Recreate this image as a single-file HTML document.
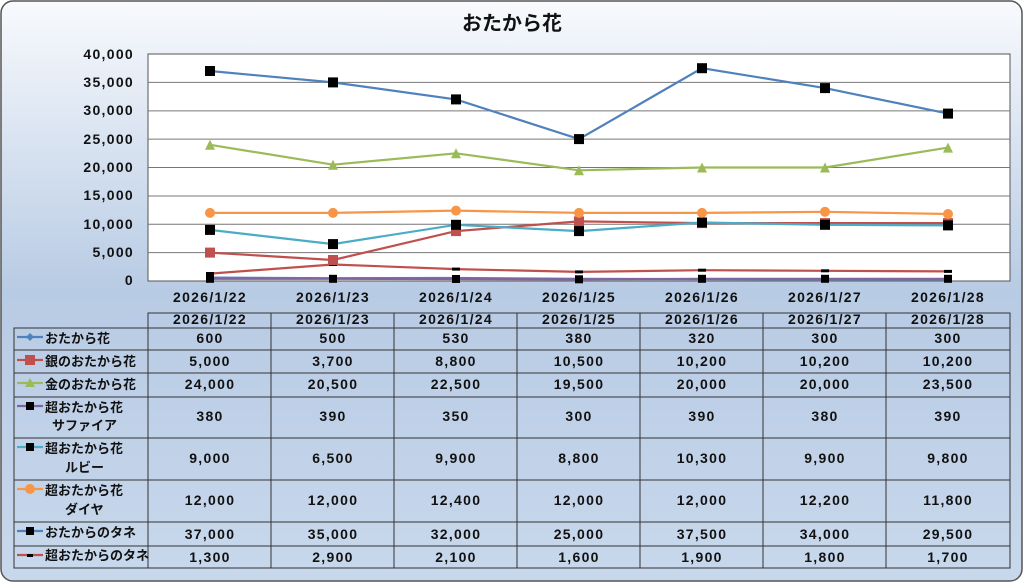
<!DOCTYPE html>
<html><head><meta charset="utf-8"><style>
body{margin:0;width:1024px;height:583px;overflow:hidden;background:#fff}
svg text{font-family:"Liberation Sans","Noto Sans CJK JP",sans-serif;font-weight:bold;fill:#111}
.n text,text.n{font-size:14px;letter-spacing:1.3px;font-weight:600}
</style></head><body>
<svg width="1024" height="583" viewBox="0 0 1024 583" xmlns="http://www.w3.org/2000/svg">
<defs><linearGradient id="bg" x1="0" y1="0" x2="0" y2="1">
<stop offset="0" stop-color="#f8fafd"/><stop offset="0.5" stop-color="#b8cbe4"/><stop offset="1" stop-color="#c8d8ec"/></linearGradient></defs>
<rect x="1" y="1" width="1021" height="580" rx="12" fill="url(#bg)" stroke="#555" stroke-width="1.5"/>
<text x="512" y="30" font-size="20" text-anchor="middle">おたから花</text>
<rect x="148" y="54" width="862" height="227" fill="#fff" stroke="#555"/>
<g stroke="#777" stroke-width="1">
<line x1="148" x2="1010" y1="82.4" y2="82.4"/><line x1="148" x2="1010" y1="110.9" y2="110.9"/>
<line x1="148" x2="1010" y1="139.1" y2="139.1"/><line x1="148" x2="1010" y1="167.5" y2="167.5"/>
<line x1="148" x2="1010" y1="196" y2="196"/><line x1="148" x2="1010" y1="224.3" y2="224.3"/>
<line x1="148" x2="1010" y1="252.6" y2="252.6"/></g>
<g class="n" text-anchor="end">
<text x="134" y="59">40,000</text><text x="134" y="87">35,000</text><text x="134" y="115">30,000</text>
<text x="134" y="144">25,000</text><text x="134" y="172">20,000</text><text x="134" y="200">15,000</text>
<text x="134" y="229">10,000</text><text x="134" y="257">5,000</text><text x="134" y="285">0</text></g>
<g class="n" text-anchor="middle">
<text x="210" y="302">2026/1/22</text><text x="333" y="302">2026/1/23</text><text x="456" y="302">2026/1/24</text>
<text x="579" y="302">2026/1/25</text><text x="702" y="302">2026/1/26</text><text x="825" y="302">2026/1/27</text><text x="948" y="302">2026/1/28</text></g>
<g fill="none" stroke-width="2.2">
<polyline stroke="#4f81bd" points="210,277.6 333,278.2 456,278 579,278.8 702,279.2 825,279.3 948,279.3"/>
<polyline stroke="#8064a2" points="210,278.8 333,278.8 456,279 579,279.3 702,278.8 825,278.8 948,278.8"/>
<polyline stroke="#c0504d" points="210,273.6 333,264.5 456,269.1 579,271.9 702,270.2 825,270.8 948,271.4"/>
<polyline stroke="#c0504d" points="210,252.6 333,260 456,231.1 579,221.4 702,223.1 825,223.1 948,223.1"/>
<polyline stroke="#4bacc6" points="210,229.9 333,244.1 456,224.8 579,231.1 702,222.5 825,224.8 948,225.4"/>
<polyline stroke="#f79646" points="210,212.9 333,212.9 456,210.6 579,212.9 702,212.9 825,211.8 948,214"/>
<polyline stroke="#9bbb59" points="210,144.8 333,164.7 456,153.3 579,170.3 702,167.5 825,167.5 948,147.6"/>
<polyline stroke="#4f81bd" points="210,71 333,82.4 456,99.4 579,139.1 702,68.2 825,88.1 948,113.6"/>
</g>
<g fill="#000">
<rect x="206" y="274.8" width="8" height="8"/><rect x="329" y="274.8" width="8" height="8"/><rect x="452" y="275" width="8" height="8"/><rect x="575" y="275.3" width="8" height="8"/><rect x="698" y="274.8" width="8" height="8"/><rect x="821" y="274.8" width="8" height="8"/><rect x="944" y="274.8" width="8" height="8"/>
<rect x="206" y="272" width="8" height="3"/><rect x="329" y="263" width="8" height="3"/><rect x="452" y="267.6" width="8" height="3"/><rect x="575" y="270.4" width="8" height="3"/><rect x="698" y="268.7" width="8" height="3"/><rect x="821" y="269.3" width="8" height="3"/><rect x="944" y="269.9" width="8" height="3"/>
</g>
<g fill="#c0504d">
<rect x="205" y="247.6" width="10" height="10"/><rect x="328" y="255" width="10" height="10"/><rect x="451" y="226.1" width="10" height="10"/><rect x="574" y="216.4" width="10" height="10"/><rect x="697" y="218.1" width="10" height="10"/><rect x="820" y="218.1" width="10" height="10"/><rect x="943" y="218.1" width="10" height="10"/></g>
<g fill="#000">
<rect x="205" y="224.9" width="10" height="10"/><rect x="328" y="239.1" width="10" height="10"/><rect x="451" y="219.8" width="10" height="10"/><rect x="574" y="226.1" width="10" height="10"/><rect x="697" y="217.5" width="10" height="10"/><rect x="820" y="219.8" width="10" height="10"/><rect x="943" y="220.4" width="10" height="10"/>
<rect x="205" y="66" width="10" height="10"/><rect x="328" y="77.4" width="10" height="10"/><rect x="451" y="94.4" width="10" height="10"/><rect x="574" y="134.1" width="10" height="10"/><rect x="697" y="63.2" width="10" height="10"/><rect x="820" y="83.1" width="10" height="10"/><rect x="943" y="108.6" width="10" height="10"/></g>
<g fill="#f79646">
<circle cx="210" cy="212.9" r="5"/><circle cx="333" cy="212.9" r="5"/><circle cx="456" cy="210.6" r="5"/><circle cx="579" cy="212.9" r="5"/><circle cx="702" cy="212.9" r="5"/><circle cx="825" cy="211.8" r="5"/><circle cx="948" cy="214" r="5"/></g>
<g fill="#9bbb59">
<polygon points="210,139.8 215,149.8 205,149.8"/><polygon points="333,159.7 338,169.7 328,169.7"/><polygon points="456,148.3 461,158.3 451,158.3"/><polygon points="579,165.3 584,175.3 574,175.3"/><polygon points="702,162.5 707,172.5 697,172.5"/><polygon points="825,162.5 830,172.5 820,172.5"/><polygon points="948,142.6 953,152.6 943,152.6"/></g>
<g stroke="#333" stroke-width="1" fill="none">
<rect x="148" y="313" width="862" height="255"/>
<rect x="14" y="328" width="134" height="240"/>
<line x1="14" x2="1010" y1="328" y2="328"/><line x1="14" x2="1010" y1="350" y2="350"/><line x1="14" x2="1010" y1="373" y2="373"/>
<line x1="14" x2="1010" y1="397" y2="397"/><line x1="14" x2="1010" y1="438" y2="438"/><line x1="14" x2="1010" y1="480" y2="480"/>
<line x1="14" x2="1010" y1="522" y2="522"/><line x1="14" x2="1010" y1="546" y2="546"/>
<line x1="271" x2="271" y1="313" y2="568"/><line x1="394" x2="394" y1="313" y2="568"/><line x1="517" x2="517" y1="313" y2="568"/>
<line x1="640" x2="640" y1="313" y2="568"/><line x1="763" x2="763" y1="313" y2="568"/><line x1="886" x2="886" y1="313" y2="568"/>
</g>
<g class="n" text-anchor="middle">
<text x="210" y="324">2026/1/22</text><text x="333" y="324">2026/1/23</text><text x="456" y="324">2026/1/24</text><text x="579" y="324">2026/1/25</text><text x="702" y="324">2026/1/26</text><text x="825" y="324">2026/1/27</text><text x="948" y="324">2026/1/28</text>
<g transform="translate(0,343)"><text x="210">600</text><text x="333">500</text><text x="456">530</text><text x="579">380</text><text x="702">320</text><text x="825">300</text><text x="948">300</text></g>
<g transform="translate(0,366)"><text x="210">5,000</text><text x="333">3,700</text><text x="456">8,800</text><text x="579">10,500</text><text x="702">10,200</text><text x="825">10,200</text><text x="948">10,200</text></g>
<g transform="translate(0,389)"><text x="210">24,000</text><text x="333">20,500</text><text x="456">22,500</text><text x="579">19,500</text><text x="702">20,000</text><text x="825">20,000</text><text x="948">23,500</text></g>
<g transform="translate(0,421)"><text x="210">380</text><text x="333">390</text><text x="456">350</text><text x="579">300</text><text x="702">390</text><text x="825">380</text><text x="948">390</text></g>
<g transform="translate(0,463)"><text x="210">9,000</text><text x="333">6,500</text><text x="456">9,900</text><text x="579">8,800</text><text x="702">10,300</text><text x="825">9,900</text><text x="948">9,800</text></g>
<g transform="translate(0,505)"><text x="210">12,000</text><text x="333">12,000</text><text x="456">12,400</text><text x="579">12,000</text><text x="702">12,000</text><text x="825">12,200</text><text x="948">11,800</text></g>
<g transform="translate(0,539)"><text x="210">37,000</text><text x="333">35,000</text><text x="456">32,000</text><text x="579">25,000</text><text x="702">37,500</text><text x="825">34,000</text><text x="948">29,500</text></g>
<g transform="translate(0,562)"><text x="210">1,300</text><text x="333">2,900</text><text x="456">2,100</text><text x="579">1,600</text><text x="702">1,900</text><text x="825">1,800</text><text x="948">1,700</text></g>
</g>
<g font-size="13">
<text x="45" y="343">おたから花</text><text x="45" y="366">銀のおたから花</text><text x="45" y="389">金のおたから花</text>
<text x="45" y="412">超おたから花</text><text x="52" y="430">サファイア</text>
<text x="45" y="453">超おたから花</text><text x="65" y="472">ルビー</text>
<text x="45" y="495">超おたから花</text><text x="65" y="514">ダイヤ</text>
<text x="45" y="537">おたからのタネ</text><text x="45" y="560">超おたからのタネ</text></g>
<g stroke-width="2.2">
<line x1="17" x2="43" y1="337" y2="337" stroke="#4f81bd"/><line x1="17" x2="43" y1="360" y2="360" stroke="#c0504d"/>
<line x1="17" x2="43" y1="383" y2="383" stroke="#9bbb59"/><line x1="17" x2="43" y1="406" y2="406" stroke="#8064a2"/>
<line x1="17" x2="43" y1="447" y2="447" stroke="#4bacc6"/><line x1="17" x2="43" y1="489" y2="489" stroke="#f79646"/>
<line x1="17" x2="43" y1="531" y2="531" stroke="#4f81bd"/><line x1="17" x2="43" y1="555" y2="555" stroke="#c0504d"/></g>
<polygon points="30,333 34,337 30,341 26,337" fill="#4f81bd"/>
<rect x="25" y="355" width="10" height="10" fill="#c0504d"/>
<polygon points="30,378 35,387 25,387" fill="#9bbb59"/>
<rect x="26" y="402" width="8" height="8" fill="#000"/><rect x="26" y="443" width="8" height="8" fill="#000"/>
<circle cx="30" cy="489" r="5" fill="#f79646"/>
<rect x="26" y="527" width="8" height="8" fill="#000"/><rect x="27" y="554" width="6" height="3" fill="#000"/>
</svg>
</body></html>
